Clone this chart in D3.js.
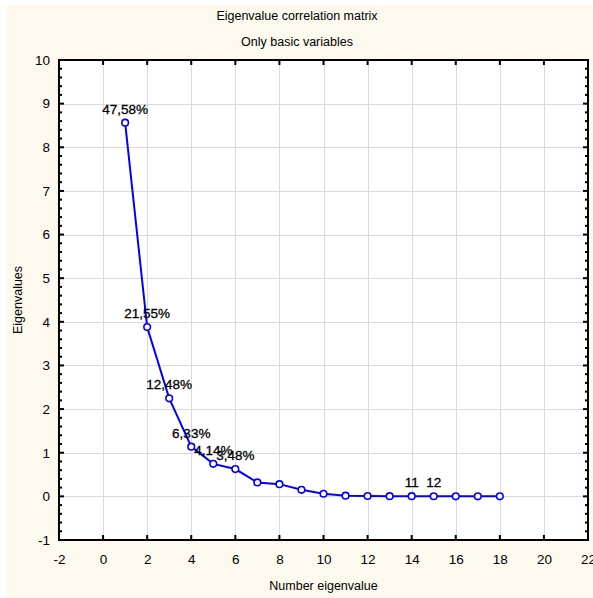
<!DOCTYPE html>
<html><head><meta charset="utf-8">
<script src="https://cdn.jsdelivr.net/npm/d3@7/dist/d3.min.js"></script>
<style>body{margin:0;background:#fff}svg text{font-family:"Liberation Sans",Arial,sans-serif;}</style>
</head><body><svg id="c" width="593" height="598"></svg>
<script>
const eigenNumbers = [1,2,3,4,5,6,7,8,9,10,11,12,13,14,15,16,17,18];
const eigenValues = [8.564,3.879,2.246,1.139,0.745,0.626,0.32,0.28,0.15,0.06,0.015,0.008,0.005,0.004,0.003,0.002,0.001,0.001];
const pointLabels = ["47,58%","21,55%","12,48%","6,33%","4,14%","3,48%","","","","","","","","11","12","","",""];
const xTicks = [-2,0,2,4,6,8,10,12,14,16,18,20,22];
const yTicks = [-1,0,1,2,3,4,5,6,7,8,9,10];
const yMinorTicks = d3.range(-1, 10.001, 0.2);
const titleText = "Eigenvalue correlation matrix";
const subtitleText = "Only basic variables";
const xTitle = "Number eigenvalue";
const yTitle = "Eigenvalues";

const svg = d3.select("#c");
const L = 59, R = 588, T = 60, B = 540;
const x = d3.scaleLinear().domain([-2, 22]).range([L, R]);
const y = d3.scaleLinear().domain([-1, 10]).range([B, T]);
const fmt = d => String(d);

// background
svg.append("rect").attr("x", 7).attr("y", 5).attr("width", 586).attr("height", 593).attr("fill", "#fdf9ee");
svg.append("rect").attr("x", L).attr("y", T).attr("width", R - L).attr("height", B - T).attr("fill", "#fff");

// grid
const grid = svg.append("g").attr("stroke", "#dadada").attr("stroke-width", 1);
xTicks.forEach(t => grid.append("line").attr("x1", Math.round(x(t)) + 0.5).attr("x2", Math.round(x(t)) + 0.5).attr("y1", T).attr("y2", B));
yTicks.forEach(t => grid.append("line").attr("y1", Math.round(y(t)) + 0.5).attr("y2", Math.round(y(t)) + 0.5).attr("x1", L).attr("x2", R));

// ticks (inward)
const tk = svg.append("g").attr("stroke", "#000").attr("stroke-width", 2);
xTicks.forEach(t => {
  tk.append("line").attr("x1", x(t)).attr("x2", x(t)).attr("y1", B).attr("y2", B - 5);
  tk.append("line").attr("x1", x(t)).attr("x2", x(t)).attr("y1", T).attr("y2", T + 5);
});
yMinorTicks.forEach(t => {
  const major = Math.abs(t - Math.round(t)) < 1e-6;
  const len = major ? 5 : 3;
  tk.append("line").attr("y1", y(t)).attr("y2", y(t)).attr("x1", L).attr("x2", L + len);
  tk.append("line").attr("y1", y(t)).attr("y2", y(t)).attr("x1", R).attr("x2", R - len);
});

// axis labels via d3 axes
const xAxis = svg.append("g").attr("transform", `translate(0,${B})`)
  .call(d3.axisBottom(x).tickValues(xTicks).tickSize(0).tickPadding(14).tickFormat(fmt));
xAxis.select(".domain").remove();
xAxis.selectAll("text").attr("font-size", 13.5).attr("fill", "#000").attr("font-family", "Liberation Sans, Arial, sans-serif");
const yAxis = svg.append("g").attr("transform", `translate(${L},0)`)
  .call(d3.axisLeft(y).tickValues(yTicks).tickSize(0).tickPadding(9).tickFormat(fmt));
yAxis.select(".domain").remove();
yAxis.selectAll("text").attr("font-size", 13.5).attr("fill", "#000").attr("font-family", "Liberation Sans, Arial, sans-serif");

// frame
svg.append("rect").attr("x", L).attr("y", T).attr("width", R - L).attr("height", B - T)
  .attr("fill", "none").attr("stroke", "#000").attr("stroke-width", 2);

// titles
svg.append("text").attr("x", 297).attr("y", 20).attr("text-anchor", "middle").attr("font-size", 12.5).text(titleText);
svg.append("text").attr("x", 297).attr("y", 46).attr("text-anchor", "middle").attr("font-size", 12.5).text(subtitleText);
svg.append("text").attr("x", (L + R) / 2).attr("y", 590).attr("text-anchor", "middle").attr("font-size", 12.5).text(xTitle);
svg.append("text").attr("transform", `translate(22,${(T + B) / 2}) rotate(-90)`).attr("text-anchor", "middle").attr("font-size", 12.5).text(yTitle);

// data
const data = eigenNumbers.map((n, i) => ({n, v: eigenValues[i], lab: pointLabels[i]}));
svg.append("path").datum(data)
  .attr("d", d3.line().x(d => x(d.n)).y(d => y(d.v)))
  .attr("fill", "none").attr("stroke", "#0000ff").attr("stroke-width", 2);
svg.append("g").selectAll("circle").data(data).join("circle")
  .attr("cx", d => x(d.n)).attr("cy", d => y(d.v)).attr("r", 3.3)
  .attr("fill", "#fff").attr("stroke", "#0000ff").attr("stroke-width", 1.6);
svg.append("g").selectAll("text").data(data.filter(d => d.lab)).join("text")
  .attr("x", d => x(d.n)).attr("y", d => y(d.v) - 9)
  .attr("text-anchor", "middle").attr("font-size", 13.5).attr("fill", "#000")
  .attr("stroke", "#000").attr("stroke-width", 0.3)
  .text(d => d.lab);
</script></body></html>
